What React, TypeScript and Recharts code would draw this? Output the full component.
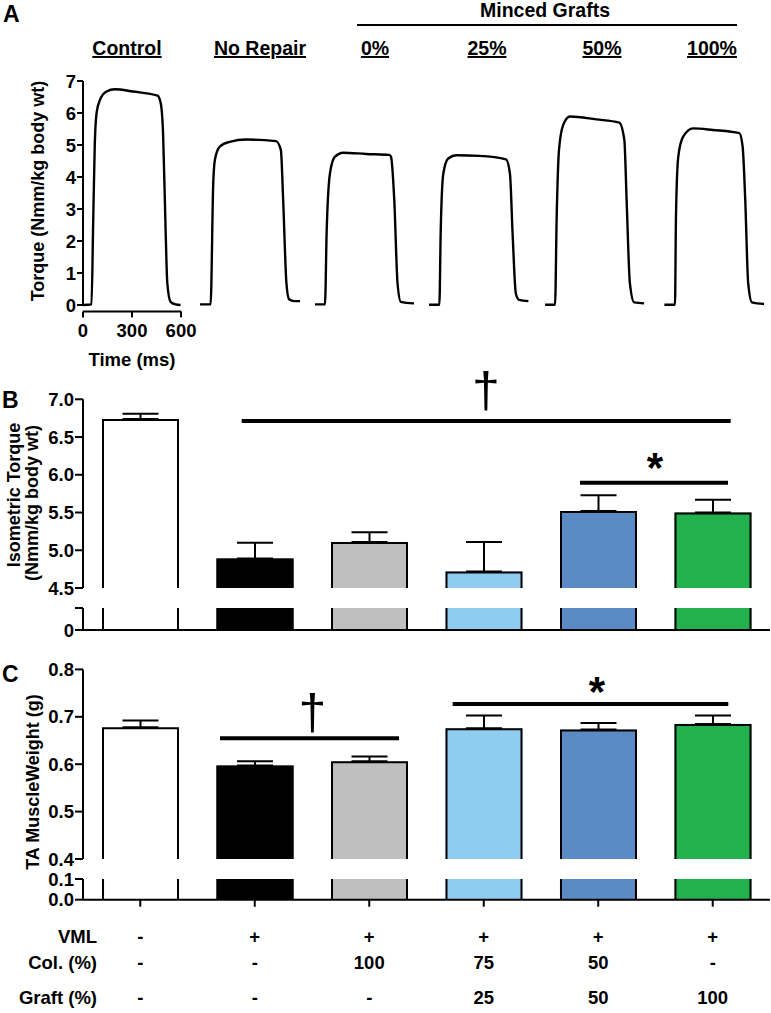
import {
  LineChart,
  Line,
  BarChart,
  Bar,
  ErrorBar,
  XAxis,
  YAxis,
  ReferenceLine,
} from "recharts";

const FONT = '"Liberation Sans", Arial, Helvetica, sans-serif';
const INK = "#000";

// ---- Panel A: representative torque traces, [time (ms), torque] ----
const traceLabels = ["Control", "No Repair", "0%", "25%", "50%", "100%"];
const traceStart = [0, 716, 1420, 2118, 2828, 3558];

const traceControl = [
  [0, 0], [52, 0.02], [62, 2.5], [72, 5.0], [83, 6.0], [103, 6.4], [144, 6.67],
  [194, 6.74], [305, 6.67], [456, 6.54], [476, 6.3], [490, 5.37], [506, 2.25],
  [516, 0.68], [536, 0.1], [566, 0.02], [597, 0],
];
const traceNoRepair = [
  [0, 0.02], [65, 0.02], [81, 3.8], [91, 4.53], [121, 4.95], [182, 5.1],
  [283, 5.17], [465, 5.12], [495, 4.84], [509, 3.28], [529, 0.68], [545, 0.18],
  [576, 0.12], [612, 0.12],
];
const traceGraft0 = [
  [0, 0.02], [61, 0.02], [71, 2.25], [91, 4.1], [121, 4.63], [172, 4.76],
  [313, 4.72], [455, 4.69], [465, 4.63], [485, 3.28], [505, 0.68], [525, 0.1],
  [606, 0.05],
];
const traceGraft25 = [
  [0, 0.01], [63, 0.01], [71, 2.25], [87, 4.1], [117, 4.58], [168, 4.68],
  [309, 4.66], [471, 4.55], [495, 4.1], [511, 2.25], [531, 0.36], [551, 0.16],
  [608, 0.12],
];
const traceGraft50 = [
  [0, 0.01], [61, 0.01], [71, 2.76], [85, 4.84], [111, 5.63], [152, 5.89],
  [313, 5.8], [454, 5.7], [485, 5.16], [499, 3.28], [519, 0.68], [545, 0.08],
  [606, 0.05],
];
const traceGraft100 = [
  [0, 0.01], [65, 0.01], [71, 2.76], [85, 4.63], [115, 5.26], [176, 5.52],
  [297, 5.47], [459, 5.37], [479, 4.95], [495, 3.28], [513, 0.68], [536, 0.08],
  [610, 0.03],
];
const traces = [traceControl, traceNoRepair, traceGraft0, traceGraft25, traceGraft50, traceGraft100];

// ---- Panels B & C: group means and SEM ----
const groups = ["Control", "No Repair", "Col 100", "Graft 25", "Graft 50", "Graft 100"];
const torque = [6.74, 4.89, 5.11, 4.72, 5.52, 5.5];
const torqueSem = [0.07, 0.21, 0.13, 0.39, 0.21, 0.17];
const weight = [0.678, 0.597, 0.606, 0.676, 0.673, 0.685];
const weightSem = [0.014, 0.009, 0.01, 0.027, 0.014, 0.018];
const barColors = ["#ffffff", "#000000", "#bfbfbf", "#8ecdef", "#5b8bc5", "#22b14c"];

// treatment table under panel C
const vmlRow = ["-", "+", "+", "+", "+", "+"];
const colRow = ["-", "-", "100", "75", "50", "-"];
const graftRow = ["-", "-", "-", "25", "50", "100"];

const headerX = [127, 260, 375, 487, 602, 712];

const traceData = traces.map((tr, i) => tr.map(([t, v]) => ({ t: t + traceStart[i], v })));
const barData = groups.map((name, i) => ({
  name,
  torque: torque[i],
  torqueErr: [0, torqueSem[i]],
  weight: weight[i],
  weightErr: [0, weightSem[i]],
}));

const tickText = { fill: INK, fontSize: 18.5, fontWeight: 700, fontFamily: FONT };
const axisLine = { stroke: INK, strokeWidth: 2 };

function barIndex(p: any) {
  if (typeof p.index === "number") return p.index;
  return groups.indexOf(p.payload?.name);
}

// bar above the axis break: filled, outlined on top and sides only
function OpenBar(p: any) {
  const { x, y, width, height } = p;
  if (!(height > 0)) return null;
  const l = x + 1;
  const r = x + width - 1;
  const b = y + height;
  return (
    <g>
      <rect x={x} y={y} width={width} height={height} fill={barColors[barIndex(p)]} />
      <path d={`M${l},${b} L${l},${y + 1} L${r},${y + 1} L${r},${b}`} fill="none" stroke={INK} strokeWidth={2} />
    </g>
  );
}

// stub below the axis break, cut off at plot top
function StubBar(p: any) {
  const { x, y, width, height, plotTop } = p;
  const top = Math.max(y, plotTop);
  const b = y + height;
  if (!(b > top)) return null;
  return (
    <g>
      <rect x={x} y={top} width={width} height={b - top} fill={barColors[barIndex(p)]} />
      <line x1={x + 1} y1={top} x2={x + 1} y2={b} stroke={INK} strokeWidth={2} />
      <line x1={x + width - 1} y1={top} x2={x + width - 1} y2={b} stroke={INK} strokeWidth={2} />
    </g>
  );
}

function TableTick(p: any) {
  const { x, y, payload } = p;
  const i = groups.indexOf(payload?.value);
  const rows = [vmlRow[i], colRow[i], graftRow[i]];
  const dy = [34, 60, 95];
  return (
    <g>
      {rows.map((s, k) => (
        <text key={k} x={x} y={y + dy[k]} textAnchor="middle" {...tickText}>
          {s}
        </text>
      ))}
    </g>
  );
}

const boldText = { fontFamily: FONT, fontWeight: 700, fill: INK };

export default function App() {
  return (
    <div style={{ position: "absolute", left: 0, top: 0, width: 771, height: 1013, background: "#fff" }}>
      {/* A */}
      <div style={{ position: "absolute", left: 0, top: 60 }}>
        <LineChart width={771} height={282} margin={{ top: 21, right: 5, bottom: 0, left: 0 }}>
          <XAxis
            type="number"
            dataKey="t"
            domain={[0, 4180]}
            ticks={[0, 300, 600]}
            allowDataOverflow
            axisLine={false}
            tickLine={axisLine}
            tickSize={6}
            tickMargin={6}
            height={30.6}
            tick={tickText}
            interval={0}
          />
          <YAxis
            type="number"
            domain={[-0.2, 7]}
            ticks={[0, 1, 2, 3, 4, 5, 6, 7]}
            allowDataOverflow
            axisLine={false}
            tickLine={axisLine}
            tickSize={6}
            tickMargin={1}
            width={83}
            tick={tickText}
            interval={0}
          />
          <ReferenceLine segment={[{ x: 0, y: -0.2 }, { x: 600, y: -0.2 }]} stroke={INK} strokeWidth={2} />
          <ReferenceLine segment={[{ x: 0, y: 0 }, { x: 0, y: 7 }]} stroke={INK} strokeWidth={2} />
          {traceData.map((d, i) => (
            <Line
              key={traceLabels[i]}
              data={d}
              dataKey="v"
              type="monotone"
              stroke={INK}
              strokeWidth={2.4}
              dot={false}
              isAnimationActive={false}
            />
          ))}
        </LineChart>
      </div>

      {/* B upper */}
      <div style={{ position: "absolute", left: 0, top: 380 }}>
        <BarChart width={771} height={220} data={barData} barSize={77} margin={{ top: 19.3, right: 1, bottom: 12, left: 0 }}>
          <XAxis dataKey="name" hide />
          <YAxis
            domain={[4.5, 7]}
            ticks={[4.5, 5, 5.5, 6, 6.5, 7]}
            allowDataOverflow
            interval={0}
            width={83}
            tickFormatter={(v: number) => v.toFixed(1)}
            axisLine={axisLine}
            tickLine={axisLine}
            tickSize={8}
            tickMargin={1}
            tick={tickText}
          />
          <Bar dataKey="torque" shape={(p: any) => <OpenBar {...p} />} isAnimationActive={false}>
            <ErrorBar dataKey="torqueErr" direction="y" width={18} stroke={INK} strokeWidth={2} />
          </Bar>
        </BarChart>
      </div>

      {/* B lower */}
      <div style={{ position: "absolute", left: 0, top: 598 }}>
        <BarChart width={771} height={49} data={barData} barSize={77} margin={{ top: 10, right: 1, bottom: 0, left: 0 }}>
          <XAxis dataKey="name" tick={false} tickLine={axisLine} axisLine={axisLine} tickSize={7} height={17} interval={0} />
          <YAxis
            domain={[0, 0.5]}
            ticks={[0, 0.5]}
            allowDataOverflow
            interval={0}
            width={83}
            tickFormatter={(v: number) => (v === 0 ? "0" : "")}
            axisLine={axisLine}
            tickLine={axisLine}
            tickSize={8}
            tickMargin={1}
            tick={tickText}
          />
          <Bar dataKey="torque" shape={(p: any) => <StubBar {...p} plotTop={10} />} isAnimationActive={false} />
        </BarChart>
      </div>

      {/* C upper */}
      <div style={{ position: "absolute", left: 0, top: 650 }}>
        <BarChart width={771} height={221} data={barData} barSize={77} margin={{ top: 19.4, right: 1, bottom: 12, left: 0 }}>
          <XAxis dataKey="name" hide />
          <YAxis
            domain={[0.4, 0.8]}
            ticks={[0.4, 0.5, 0.6, 0.7, 0.8]}
            allowDataOverflow
            interval={0}
            width={83}
            tickFormatter={(v: number) => v.toFixed(1)}
            axisLine={axisLine}
            tickLine={axisLine}
            tickSize={8}
            tickMargin={1}
            tick={tickText}
          />
          <Bar dataKey="weight" shape={(p: any) => <OpenBar {...p} />} isAnimationActive={false}>
            <ErrorBar dataKey="weightErr" direction="y" width={18} stroke={INK} strokeWidth={2} />
          </Bar>
        </BarChart>
      </div>

      {/* C lower + treatment table */}
      <div style={{ position: "absolute", left: 0, top: 869.3 }}>
        <BarChart width={771} height={143.7} data={barData} barSize={77} margin={{ top: 10, right: 1, bottom: 0, left: 0 }}>
          <XAxis
            dataKey="name"
            tick={(p: any) => <TableTick {...p} />}
            tickLine={axisLine}
            axisLine={axisLine}
            tickSize={7}
            tickMargin={2}
            height={113}
            interval={0}
          />
          <YAxis
            domain={[0, 0.1]}
            ticks={[0, 0.1]}
            allowDataOverflow
            interval={0}
            width={83}
            tickFormatter={(v: number) => v.toFixed(1)}
            axisLine={axisLine}
            tickLine={axisLine}
            tickSize={8}
            tickMargin={1}
            tick={tickText}
          />
          <Bar dataKey="weight" shape={(p: any) => <StubBar {...p} plotTop={10} />} isAnimationActive={false} />
        </BarChart>
      </div>

      {/* labels and significance marks */}
      <svg width={771} height={1013} style={{ position: "absolute", left: 0, top: 0, pointerEvents: "none" }}>
        <text x={3} y={22} fontSize={23} {...boldText}>A</text>
        <text x={2} y={408} fontSize={23} {...boldText}>B</text>
        <text x={2} y={682} fontSize={23} {...boldText}>C</text>

        <text x={545} y={17} fontSize={19.5} textAnchor="middle" {...boldText}>Minced Grafts</text>
        <line x1={357} y1={25} x2={737} y2={25} stroke={INK} strokeWidth={2} />
        {traceLabels.map((t, i) => (
          <text key={t} x={headerX[i]} y={55} fontSize={19.5} textAnchor="middle" textDecoration="underline" {...boldText}>
            {t}
          </text>
        ))}

        <text transform="translate(38,191) rotate(-90)" textAnchor="middle" dominantBaseline="central" fontSize={18} {...boldText}>
          Torque (Nmm/kg body wt)
        </text>
        <text x={132} y={366} textAnchor="middle" fontSize={18.5} {...boldText}>Time (ms)</text>

        <text transform="translate(14,495) rotate(-90)" textAnchor="middle" dominantBaseline="central" fontSize={18} {...boldText}>
          Isometric Torque
        </text>
        <text transform="translate(32,503) rotate(-90)" textAnchor="middle" dominantBaseline="central" fontSize={18} {...boldText}>
          (Nmm/kg body wt)
        </text>
        <text transform="translate(33,782) rotate(-90)" textAnchor="middle" dominantBaseline="central" fontSize={18} {...boldText}>
          TA MuscleWeight (g)
        </text>

        {/* B significance */}
        <line x1={241.7} y1={421} x2={730.7} y2={421} stroke={INK} strokeWidth={4} />
        <text x={486} y={407} textAnchor="middle" fontSize={50} fontFamily={FONT} fill={INK}>†</text>
        <line x1={580} y1={482.7} x2={728} y2={482.7} stroke={INK} strokeWidth={4} />
        <text x={655} y={482} textAnchor="middle" fontSize={42} {...boldText}>*</text>

        {/* C significance */}
        <line x1={220} y1={738.3} x2={399} y2={738.3} stroke={INK} strokeWidth={4} />
        <text x={312.5} y={729} textAnchor="middle" fontSize={50} fontFamily={FONT} fill={INK}>†</text>
        <line x1={452.7} y1={704} x2={728.3} y2={704} stroke={INK} strokeWidth={4} />
        <text x={597} y={706} textAnchor="middle" fontSize={42} {...boldText}>*</text>

        {/* treatment row labels */}
        <text x={97} y={943} textAnchor="end" fontSize={18.5} {...boldText}>VML</text>
        <text x={97} y={969} textAnchor="end" fontSize={18.5} {...boldText}>Col. (%)</text>
        <text x={97} y={1004} textAnchor="end" fontSize={18.5} {...boldText}>Graft (%)</text>
      </svg>
    </div>
  );
}
